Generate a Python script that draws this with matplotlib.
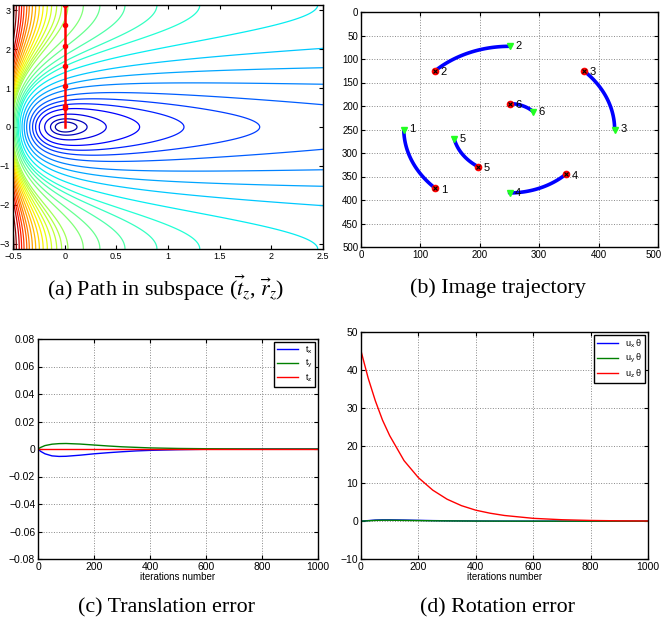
import numpy as np
import matplotlib
matplotlib.use('Agg')
import matplotlib.pyplot as plt
from matplotlib.transforms import ScaledTranslation

plt.rcParams['font.family'] = ['Liberation Sans', 'DejaVu Sans']
plt.rcParams['mathtext.default'] = 'regular'
plt.rcParams['mathtext.fontset'] = 'stix'
plt.rcParams['axes.unicode_minus'] = True

# ---------------- data ----------------
# (a) cost landscape in the (t_z, r_z) subspace
tz_range = (-0.5, 2.5)
rz_range = (-np.pi, np.pi)
scale_a, scale_b, scale_c = 0.6883, 0.7436, 0.0744   # image scale factor s(tz) = a/(tz+b)+c
# contour levels, read from where the curves cross the axes of the reference
contour_levels = [0.128, 0.209, 0.325, 0.457, 0.563, 0.664, 0.775, 0.907, 1.028, 1.155,
                  1.29, 1.41, 1.495, 1.593, 1.709, 1.819, 1.962, 2.038, 2.107, 2.19, 2.27,
                  2.36, 2.455, 2.56, 2.67, 2.79, 2.90, 3.04, 3.18, 3.34, 3.57, 3.8]
colour_top = 3.6
path_tz = [0.0, 0.0, 0.0, 0.0, 0.0, 0.0, 0.0, 0.0]
path_rz = [3.14, 2.62, 2.09, 1.57, 1.05, 0.55, 0.50, 0.0]

# (b) image trajectory
point_labels = ['1', '2', '3', '4', '5', '6']
start_x = [125, 125, 375, 345, 197, 250]
start_y = [375, 125, 125, 345, 329, 195]
end_x = [72, 250, 427, 250, 157, 290]
end_y = [250, 73, 250, 385, 270, 212]
image_center = (250, 250)

# (c) translation error
iters_c = [0, 10, 25, 50, 75, 100, 150, 200, 250, 300, 350, 400, 500, 600, 700, 800, 1000]
t_x = [0, -0.0018, -0.0035, -0.0050, -0.0054, -0.0053, -0.0045, -0.0035, -0.0027,
       -0.0020, -0.0014, -0.0010, -0.0005, -0.0002, -0.0001, 0, 0]
t_y = [0, 0.0012, 0.0025, 0.0035, 0.0039, 0.0040, 0.0036, 0.0029, 0.0022,
       0.0016, 0.0012, 0.0008, 0.0004, 0.0002, 0.0001, 0, 0]
t_z = [0] * len(iters_c)

# (d) rotation error
iters_d = [0, 25, 50, 75, 100, 150, 200, 250, 300, 350, 400, 450, 500, 600, 700, 800, 900, 1000]
uz_theta = [45, 37.8, 31.8, 26.7, 22.6, 16.0, 11.5, 8.2, 5.8, 4.1, 2.9, 2.1, 1.5,
            0.75, 0.38, 0.19, 0.09, 0.05]
ux_theta = [0, 0.15, 0.3, 0.35, 0.35, 0.3, 0.22, 0.15, 0.1, 0.07, 0.05, 0.03, 0.02,
            0.01, 0, 0, 0, 0]
uy_theta = [0, 0.1, 0.2, 0.25, 0.25, 0.2, 0.15, 0.1, 0.07, 0.05, 0.03, 0.02, 0.01,
            0, 0, 0, 0, 0]

captions = [r'(a) Path in subspace $(\vec{\mathit{t}}_{\mathit{z}},\, \vec{\mathit{r}}_{\mathit{z}})$',
            '(b) Image trajectory', '(c) Translation error', '(d) Rotation error']

# ---------------- figure ----------------
W, H = 664, 624
fig = plt.figure(figsize=(W / 100, H / 100), dpi=100)


def add_ax(l, r, t, b):
    return fig.add_axes([l / W, (H - b) / H, (r - l) / W, (b - t) / H])


def style(ax, fs):
    ax.tick_params(direction='in', top=True, right=True, labelsize=fs, length=3,
                   width=0.8, pad=2)
    for sp in ax.spines.values():
        sp.set_linewidth(1.0)


# (a)
axa = add_ax(13, 323, 5, 249)
tz = np.linspace(*tz_range, 600)
rz = np.linspace(*rz_range, 600)
TZ, RZ = np.meshgrid(tz, rz)
S = scale_a / (TZ + scale_b) + scale_c
G = np.sqrt(1 + S ** 2 - 2 * S * np.cos(RZ))
axa.contour(TZ, RZ, G, levels=contour_levels, cmap='jet', vmin=0, vmax=colour_top,
            linewidths=0.9)
axa.plot(path_tz, path_rz, color='red', lw=1.8)
axa.plot(path_tz[:-1], path_rz[:-1], 'o', color='red', ms=3)
axa.set_xlim(*tz_range)
axa.set_ylim(*rz_range)
axa.set_xticks([-0.5, 0, 0.5, 1, 1.5, 2, 2.5])
axa.set_xticklabels(['−0.5', '0', '0.5', '1', '1.5', '2', '2.5'])
axa.set_yticks([-3, -2, -1, 0, 1, 2, 3])
axa.set_yticklabels(['−3', '−2', '−1', '0', '1', '2', '3'])
style(axa, 6.5)

# (b)
axb = add_ax(361, 658, 12, 247)
cx, cy = image_center
for i in range(len(point_labels)):
    a0 = np.arctan2(start_y[i] - cy, start_x[i] - cx)
    a1 = np.arctan2(end_y[i] - cy, end_x[i] - cx)
    if a1 < a0:
        a1 += 2 * np.pi
    r0 = np.hypot(start_x[i] - cx, start_y[i] - cy)
    r1 = np.hypot(end_x[i] - cx, end_y[i] - cy)
    t = np.linspace(0, 1, 60)
    ang = a0 + (a1 - a0) * t
    rad = r0 + (r1 - r0) * t
    axb.plot(cx + rad * np.cos(ang), cy + rad * np.sin(ang), color='blue', lw=2.6,
             solid_capstyle='round', zorder=2)
axb.plot(start_x, start_y, 'o', color='red', ms=4.5, zorder=3)
axb.plot(start_x, start_y, 'x', color='black', ms=3, mew=0.8, zorder=4)
axb.plot(end_x, end_y, 'v', color='#22ff22', ms=5, zorder=3)
for i, lab in enumerate(point_labels):
    axb.annotate(lab, (start_x[i], start_y[i]), xytext=(4, -1), textcoords='offset points',
                 ha='left', va='center', fontsize=8)
    axb.annotate(lab, (end_x[i], end_y[i]), xytext=(4, 0), textcoords='offset points',
                 ha='left', va='center', fontsize=8)
axb.set_xlim(0, 500)
axb.set_ylim(500, 0)
axb.set_xticks(range(0, 501, 100))
axb.set_yticks(range(0, 501, 50))
axb.grid(True, ls=':', color='#888888', lw=0.7)
style(axb, 7)
fig.canvas.draw()
last = axb.get_xticklabels()[-1]
last.set_transform(last.get_transform() + ScaledTranslation(-4 / 100, 0, fig.dpi_scale_trans))

# (c)
axc = add_ax(38, 318, 339, 559)
axc.plot(iters_c, t_x, color='blue', lw=1.0, label='t$_x$')
axc.plot(iters_c, t_y, color='#008000', lw=1.0, label='t$_y$')
axc.plot(iters_c, t_z, color='red', lw=1.0, label='t$_z$')
axc.set_xlim(0, 1000)
axc.set_ylim(-0.08, 0.08)
axc.set_yticks(np.arange(-0.08, 0.081, 0.02))
axc.set_yticklabels(['−0.08', '−0.06', '−0.04', '−0.02', '0', '0.02', '0.04', '0.06', '0.08'])
axc.set_xticks(range(0, 1001, 200))
axc.grid(True, ls=':', color='#888888', lw=0.7)
axc.set_xlabel('iterations number', fontsize=7, labelpad=0)
style(axc, 7.5)
lg = axc.legend(loc='upper right', fontsize=6.5, fancybox=False, framealpha=1,
                edgecolor='black', borderaxespad=0.3, handlelength=2.3, labelspacing=0.25,
                borderpad=0.3)
lg.get_frame().set_linewidth(1.0)

# (d)
axd = add_ax(361, 648, 332, 559)
axd.plot(iters_d, ux_theta, color='blue', lw=1.0, label=r'u$_x$ θ')
axd.plot(iters_d, uy_theta, color='#008000', lw=1.0, label=r'u$_y$ θ')
axd.plot(iters_d, uz_theta, color='red', lw=1.0, label=r'u$_z$ θ')
axd.set_xlim(0, 1000)
axd.set_ylim(-10, 50)
axd.set_yticks(range(-10, 51, 10))
axd.set_yticklabels(['−10', '0', '10', '20', '30', '40', '50'])
axd.set_xticks(range(0, 1001, 200))
axd.grid(True, ls=':', color='#888888', lw=0.7)
axd.set_xlabel('iterations number', fontsize=7, labelpad=0)
style(axd, 7.5)
lg = axd.legend(loc='upper right', fontsize=6.5, fancybox=False, framealpha=1,
                edgecolor='black', borderaxespad=0.3, handlelength=2.3, labelspacing=0.25,
                borderpad=0.3)
lg.get_frame().set_linewidth(1.0)

# captions
cap_pos = [(166, 288), (498, 288), (166, 608), (498, 608)]
for (x, y), txt in zip(cap_pos, captions):
    fig.text(x / W, 1 - y / H, txt, ha='center', va='center', fontsize=15.8,
             family='Liberation Serif')

fig.savefig('out.png', dpi=100, facecolor='white')
